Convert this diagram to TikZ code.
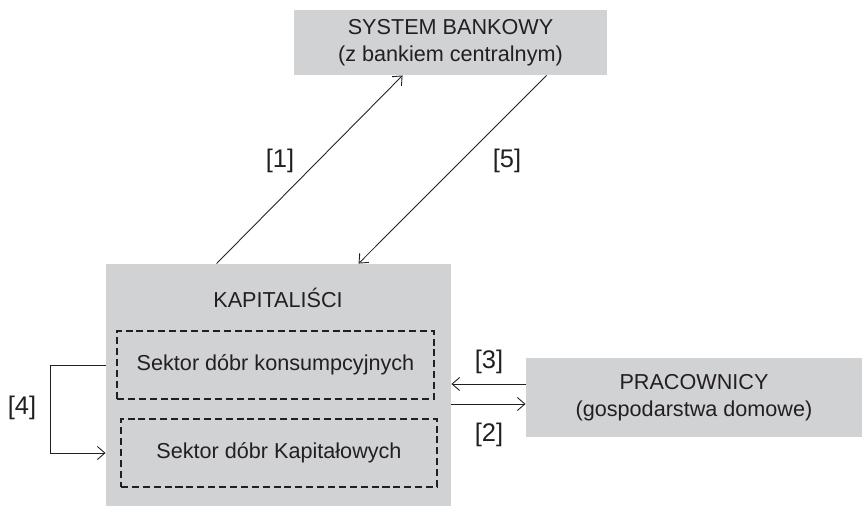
\documentclass[tikz,border=0pt]{standalone}
\usepackage{fontspec}
\setmainfont{Liberation Sans}
\usetikzlibrary{arrows.meta}
\definecolor{boxgray}{RGB}{209,210,212}
\definecolor{ink}{RGB}{35,31,32}
\begin{document}
\begin{tikzpicture}[
	font=\fontsize{12.3}{15.4}\selectfont, color=ink, line width=0.5pt,
	>={Straight Barb[length=1.5mm,width=2.6mm]},
	grbox/.style={fill=boxgray, draw=none, align=center, inner sep=0pt},
	sektor/.style={draw=ink, line width=1.1pt, dash pattern=on 4pt off 2.2pt, minimum height=1.36cm, inner sep=0pt},
	nr/.style={font=\fontsize{14.5}{17}\selectfont}]
				\useasboundingbox (0,0) rectangle (17.28,-10.12);
				\node[grbox, minimum width=6.26cm, minimum height=1.3cm] (bank) at (9.01,-0.85){SYSTEM BANKOWY\\(z bankiem centralnym)};
				\node[grbox, minimum width=6.9cm, minimum height=4.84cm] (kap) at (5.57,-7.70){};
				\node[grbox, minimum width=6.72cm, minimum height=1.58cm] (prac) at (13.88,-7.95){PRACOWNICY\\(gospodarstwa domowe)};
				\node (kaptxt) at (5.56,-5.96){KAPITALIŚCI};
				\node[sektor, minimum width=6.34cm] (sek1) at (5.51,-7.30){Sektor dóbr konsumpcyjnych};
				\node[sektor, minimum width=6.32cm] (sek2) at (5.58,-9.06){Sektor dóbr Kapitałowych};
				\node[nr] (l1) at (5.6,-3.22){[1]};
				\node[nr] (l5) at (10.14,-3.22){[5]};
				\node[nr] (l3) at (9.78,-7.24){[3]};
				\node[nr] (l2) at (9.78,-8.7){[2]};
				\node[nr] (l4) at (0.44,-8.16){[4]};
				\coordinate (r3) at ([yshift=0.27cm]prac.west);
				\coordinate (r2) at ([yshift=-0.13cm]prac.west);
				\draw[->]([xshift=2.22cm]kap.north west)--([xshift=2.18cm]bank.south west);
				\draw[->]([xshift=5.06cm]bank.south west)--([xshift=5.06cm]kap.north west);
				\draw[->](r3)--(r3 -| kap.east);
				\draw[->](r2 -| kap.east)--(r2);
				\draw[->](sek1.west -| kap.west)--++(-1.1,0)|-(sek2.west -| kap.west);
				\end{tikzpicture}
\end{document}
